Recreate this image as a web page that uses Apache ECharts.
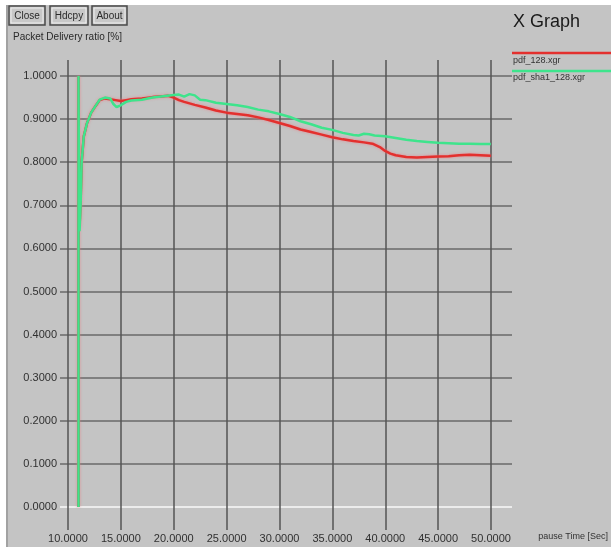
<!DOCTYPE html>
<html lang="en">

<head>
  <meta charset="UTF-8">
  <title>X Graph</title>
  <script src="https://cdn.jsdelivr.net/npm/echarts@6/dist/echarts.min.js"></script>
</head>

<body style="margin:0;background:#c4c4c4">
  <div id="main" style="width: 611px;height: 547px;"></div>
</body>
<script>
  // pdf_128.xgr
  var plainTime = [11.0, 11.0, 11.05, 11.1, 11.2, 11.3, 11.5, 11.8, 12.2, 12.6, 13.0, 13.5, 14.0, 14.5, 15.0, 15.5, 16.0, 17.0, 18.0, 19.0, 19.5, 20.0, 20.5, 21.0, 22.0, 23.0, 24.0, 25.0, 26.0, 27.0, 28.0, 29.0, 30.0, 31.0, 32.0, 33.0, 34.0, 35.0, 36.0, 37.0, 38.0, 38.8, 39.5, 40.0, 40.5, 41.0, 42.0, 43.0, 44.0, 45.0, 46.0, 47.0, 48.0, 49.0, 50.0]
  var plainPdf = [0.0, 1.0, 0.74, 0.65, 0.71, 0.80, 0.86, 0.89, 0.915, 0.93, 0.944, 0.948, 0.946, 0.944, 0.942, 0.944, 0.946, 0.948, 0.951, 0.953, 0.954, 0.95, 0.944, 0.94, 0.933, 0.927, 0.92, 0.915, 0.912, 0.909, 0.904, 0.898, 0.891, 0.884, 0.876, 0.87, 0.864, 0.858, 0.853, 0.849, 0.846, 0.843, 0.835, 0.826, 0.82, 0.816, 0.812, 0.811, 0.812, 0.813, 0.814, 0.816, 0.817, 0.816, 0.815]
  // pdf_sha1_128.xgr
  var shaTime = [11.0, 11.0, 11.05, 11.1, 11.2, 11.3, 11.5, 11.8, 12.2, 12.6, 13.0, 13.5, 14.0, 14.3, 14.6, 15.0, 15.5, 16.0, 17.0, 18.0, 19.0, 20.0, 20.5, 21.0, 21.5, 22.0, 22.5, 23.0, 24.0, 25.0, 26.0, 27.0, 28.0, 29.0, 30.0, 31.0, 32.0, 33.0, 34.0, 35.0, 36.0, 37.0, 37.5, 38.0, 38.5, 39.0, 40.0, 41.0, 42.0, 43.0, 44.0, 45.0, 46.0, 47.0, 48.0, 49.0, 50.0]
  var shaPdf = [0.0, 1.0, 0.72, 0.64, 0.70, 0.80, 0.86, 0.89, 0.915, 0.93, 0.945, 0.95, 0.948, 0.935, 0.928, 0.932, 0.94, 0.943, 0.945, 0.95, 0.953, 0.956, 0.957, 0.952, 0.958, 0.955, 0.945, 0.944, 0.938, 0.935, 0.932, 0.928, 0.922, 0.918, 0.912, 0.905, 0.895, 0.888, 0.88, 0.875, 0.868, 0.863, 0.862, 0.866, 0.865, 0.862, 0.86, 0.856, 0.852, 0.849, 0.847, 0.845, 0.844, 0.843, 0.843, 0.842, 0.842]

  var xTicks = [10, 50, 5]
  var yTicks = [0, 1, 0.1]

  var font = 'Liberation Sans'
  var red = '#e3302e'
  var green = '#3ee48c'

  function pairs(xs, ys) {
    return xs.map(function (x, i) { return [x, ys[i]] })
  }

  // first horizontal line (0.0) is drawn light, the rest gray
  var hColors = []
  for (var i = 0; i <= 10; i++) hColors.push(i == 0 ? '#ececec' : '#808080')

  function button(x, w, label) {
    return [
      { type: 'rect', shape: { x: x, y: 6, width: w, height: 19 }, style: { fill: '#c8c8c8', stroke: '#4a4a4a', lineWidth: 1.5 } },
      { type: 'rect', shape: { x: x + 2, y: 8, width: w - 4, height: 15 }, style: { fill: 'none', stroke: '#eeeeee', lineWidth: 1 } },
      { type: 'text', x: x + w / 2, y: 16, style: { text: label, font: '10px ' + font, fill: '#2a2a2a', align: 'center', verticalAlign: 'middle' } }
    ]
  }

  var charts = echarts.init(document.getElementById('main'))
  var option = {
    animation: false,
    backgroundColor: '#c4c4c4',
    grid: [
      { left: 60, right: 99, top: 76, bottom: 40 },
      { left: 68, right: 120, top: 60, bottom: 17 }
    ],
    xAxis: [
      { gridIndex: 0, type: 'value', min: 9.25, max: 52, show: false },
      {
        gridIndex: 1, type: 'value', min: xTicks[0], max: xTicks[1], interval: xTicks[2],
        axisLine: { show: false }, axisTick: { show: false },
        axisLabel: { margin: 3, fontFamily: font, fontSize: 11, color: '#303030', formatter: function (v) { return v.toFixed(4) } },
        splitLine: { show: true, lineStyle: { color: '#555555', width: 1.5 } }
      }
    ],
    yAxis: [
      {
        gridIndex: 0, type: 'value', min: yTicks[0], max: yTicks[1], interval: yTicks[2],
        axisLine: { show: false }, axisTick: { show: false },
        axisLabel: { margin: 3, fontFamily: font, fontSize: 11, color: '#303030', formatter: function (v) { return v.toFixed(4) } },
        splitLine: { show: true, lineStyle: { color: hColors, width: 2 } }
      },
      { gridIndex: 1, type: 'value', min: 0, max: 1, show: false }
    ],
    series: [
      {
        name: 'pdf_128.xgr', type: 'line', xAxisIndex: 0, yAxisIndex: 0,
        data: pairs(plainTime, plainPdf), showSymbol: false,
        lineStyle: { color: red, width: 2.5, shadowColor: 'rgba(240,120,130,0.8)', shadowBlur: 3 }
      },
      {
        name: 'pdf_sha1_128.xgr', type: 'line', xAxisIndex: 0, yAxisIndex: 0,
        data: pairs(shaTime, shaPdf), showSymbol: false,
        lineStyle: { color: green, width: 2.5 }
      }
    ],
    graphic: [
      { type: 'rect', shape: { x: 0, y: 0, width: 611, height: 5 }, style: { fill: '#ffffff' } },
      { type: 'rect', shape: { x: 0, y: 0, width: 6, height: 547 }, style: { fill: '#ffffff' } },
      { type: 'rect', shape: { x: 6, y: 5, width: 2, height: 542 }, style: { fill: '#a2a2a2' } },
      { type: 'text', x: 13, y: 32, style: { text: 'Packet Delivery ratio [%]', font: '10px ' + font, fill: '#2a2a2a', verticalAlign: 'top' } },
      { type: 'text', x: 513, y: 13, style: { text: 'X Graph', font: '18px ' + font, fill: '#1a1a1a', verticalAlign: 'top' } },
      { type: 'line', shape: { x1: 512, y1: 53, x2: 611, y2: 53 }, style: { stroke: red, lineWidth: 2.5 } },
      { type: 'text', x: 513, y: 56, style: { text: 'pdf_128.xgr', font: '9px ' + font, fill: '#333333', verticalAlign: 'top' } },
      { type: 'line', shape: { x1: 512, y1: 71, x2: 611, y2: 71 }, style: { stroke: green, lineWidth: 2.5 } },
      { type: 'text', x: 513, y: 73, style: { text: 'pdf_sha1_128.xgr', font: '9px ' + font, fill: '#333333', verticalAlign: 'top' } },
      { type: 'text', x: 608, y: 532, style: { text: 'pause Time [Sec]', font: '9px ' + font, fill: '#333333', align: 'right', verticalAlign: 'top' } }
    ].concat(button(9, 36, 'Close'), button(50, 38, 'Hdcpy'), button(92, 35, 'About'))
  }
  charts.setOption(option)
</script>

</html>
